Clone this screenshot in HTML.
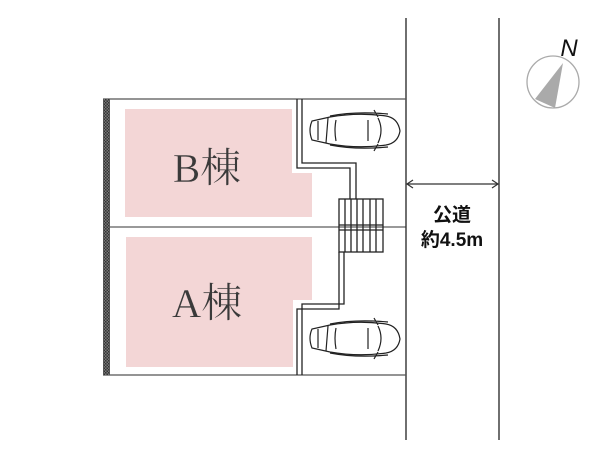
<!DOCTYPE html>
<html><head><meta charset="utf-8"><style>
html,body{margin:0;padding:0;background:#fff;width:600px;height:450px;overflow:hidden}
svg{display:block}
</style></head><body>
<svg width="600" height="450" viewBox="0 0 600 450" xmlns="http://www.w3.org/2000/svg">
<defs>
<pattern id="hatch" width="3" height="3" patternUnits="userSpaceOnUse">
<rect width="3" height="3" fill="#777"/><rect width="1.5" height="1.5" fill="#333"/><rect x="1.5" y="1.5" width="1.5" height="1.5" fill="#333"/>
</pattern>
<g id="car" fill="none" stroke="#222" stroke-width="1.2">
<path d="M4 8 Q0 17 4 27 L22 31 Q50 36 78 32 Q90 30 92 18 Q90 5 78 3 Q50 -1 22 4 Z"/>
<path d="M20 5 L18 30 M28 7 Q26 17 28 28 M70 5 Q76 17 70 30 M60 7 L60 28 M10 8 L10 27"/>
<path d="M22 3 Q48 -2 80 1 M22 32 Q48 37 80 34 M66 -3 L70 4 M66 38 L70 31"/>
</g>
</defs>
<line x1="406" y1="18" x2="406" y2="440" stroke="#222" stroke-width="1.3"/>
<line x1="499" y1="18" x2="499" y2="440" stroke="#222" stroke-width="1.3"/>
<line x1="103" y1="99" x2="406" y2="99" stroke="#555" stroke-width="1.2"/>
<line x1="103" y1="375" x2="406" y2="375" stroke="#555" stroke-width="1.2"/>
<line x1="110" y1="227" x2="406" y2="227" stroke="#333" stroke-width="1"/>
<rect x="103" y="99" width="7" height="276" fill="url(#hatch)"/>
<path d="M125 109 H292 V173 H312 V217 H125 Z" fill="#f3d6d6"/>
<path d="M126 237 H312 V300 H293 V367 H126 Z" fill="#f3d6d6"/>
<text x="207" y="182" font-family="Liberation Serif, 'Noto Serif CJK SC', serif" font-size="41" fill="#3a3a3a" stroke="#f3d6d6" stroke-width="0.4" text-anchor="middle">B棟</text>
<text x="207" y="317" font-family="Liberation Serif, 'Noto Serif CJK SC', serif" font-size="41" fill="#3a3a3a" stroke="#f3d6d6" stroke-width="0.4" text-anchor="middle">A棟</text>
<g fill="none" stroke="#222" stroke-width="1.3">
<path d="M297 99 V168 H350 V199"/>
<path d="M302 99 V163 H356 V199"/>
<path d="M339 252 V309 H297 V375"/>
<path d="M344 252 V304 H302 V375"/>
<rect x="339" y="199" width="44" height="53"/>
<path d="M345 199V252 M351 199V252 M357 199V252 M363 199V252 M370 199V252 M376 199V252 M339 225H383 M339 230H383"/>
</g>
<use href="#car" x="308" y="113"/>
<use href="#car" x="308" y="321"/>
<g stroke="#333" stroke-width="1.2" fill="none">
<line x1="407" y1="184" x2="498" y2="184"/>
<path d="M413 180 L407 184 L413 188 M492 180 L498 184 L492 188"/>
</g>
<text x="452" y="221" font-family="Liberation Sans, 'Noto Sans CJK JP', sans-serif" font-size="19" font-weight="bold" fill="#111" text-anchor="middle">公道</text>
<text x="452" y="246" font-family="Liberation Sans, 'Noto Sans CJK JP', sans-serif" font-size="19" font-weight="bold" fill="#111" text-anchor="middle">約4.5m</text>
<circle cx="553" cy="82" r="26" fill="#fff" stroke="#aaa" stroke-width="1.3"/>
<path d="M563 63 L555 108 L535 99 Z" fill="#aaa"/>
<text x="569" y="56" font-family="Liberation Sans, sans-serif" font-size="24" font-style="italic" fill="#111" text-anchor="middle">N</text>
</svg>
</body></html>
